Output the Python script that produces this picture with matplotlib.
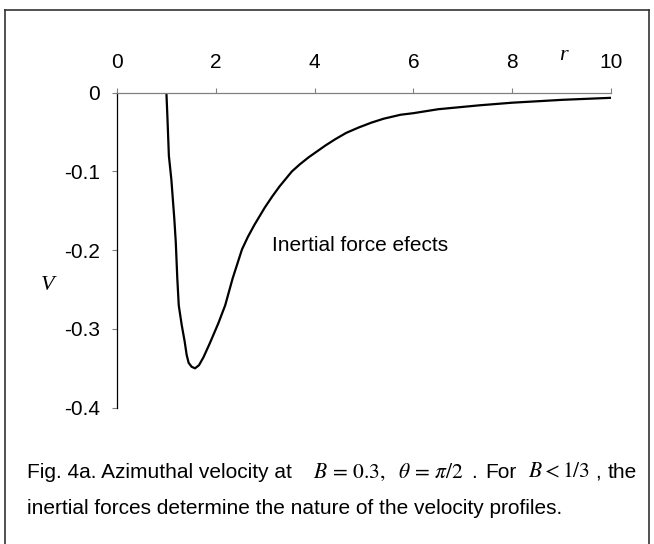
import matplotlib
matplotlib.use('Agg')
import matplotlib.pyplot as plt
from matplotlib.lines import Line2D

plt.rcParams['font.family'] = ['Liberation Sans', 'DejaVu Sans']
plt.rcParams['mathtext.fontset'] = 'stix'

# curve
r = [1.00, 1.02, 1.05, 1.10, 1.16, 1.19, 1.22, 1.25, 1.31, 1.37, 1.41, 1.45,
     1.51, 1.58, 1.66, 1.75, 1.88, 2.05, 2.19, 2.34, 2.53, 2.65, 2.78, 2.99,
     3.14, 3.29, 3.54, 3.70, 3.88, 4.22, 4.42, 4.64, 4.90, 5.15, 5.40, 5.74,
     6.00, 6.50, 7.34, 8.00, 9.03, 10.0]
V = [0.000, -0.030, -0.080, -0.110, -0.160, -0.190, -0.235, -0.270, -0.295,
     -0.316, -0.333, -0.343, -0.348, -0.350, -0.346, -0.336, -0.318, -0.293,
     -0.270, -0.236, -0.199, -0.183, -0.168, -0.146, -0.132, -0.119, -0.100,
     -0.091, -0.082, -0.067, -0.059, -0.051, -0.044, -0.038, -0.033, -0.028,
     -0.026, -0.021, -0.016, -0.0127, -0.009, -0.0065]

xticks = [0, 2, 4, 6, 8, 10]
yticks = [0, -0.1, -0.2, -0.3, -0.4]
ytick_labels = ['0', '-0.1', '-0.2', '-0.3', '-0.4']

W, H = 654, 544
fig = plt.figure(figsize=(W / 100, H / 100), dpi=100)

def px(x, y):
    return x / W, 1 - y / H

ax = fig.add_axes([117 / W, 1 - 407.7 / H, 494 / W, 315 / H])
ax.plot(r, V, color='black', lw=1.6)
ax.set_xlim(0, 10)
ax.set_ylim(-0.4, 0)

ax.spines['right'].set_visible(False)
ax.spines['bottom'].set_visible(False)
ax.spines['top'].set_color('#808080')
ax.spines['top'].set_linewidth(0.9)
ax.spines['left'].set_color('black')
ax.spines['left'].set_linewidth(0.9)

ax.xaxis.tick_top()
ax.set_xticks(xticks)
ax.set_yticks(yticks)
ax.set_yticklabels(ytick_labels)
ax.tick_params(axis='x', direction='out', length=3.6, width=0.8, color='#808080',
               pad=11, labelsize=15)
ax.tick_params(axis='y', direction='out', length=3.6, width=0.8, color='#808080',
               pad=8.5, labelsize=15)

ax.text(3.14, -0.194, 'Inertial force efects', fontsize=15, ha='left', va='center')

fig.text(*px(563, 55), 'r', fontsize=16, family='Liberation Serif', style='italic',
         ha='center', va='center')
fig.text(*px(48, 285), 'V', fontsize=16, family='Liberation Serif', style='italic',
         ha='center', va='center')

# caption
cy1, cy2 = 472, 508
fs = 15
fig.text(*px(27, cy1), 'Fig. 4a. Azimuthal velocity at', fontsize=fs, ha='left', va='center')
fig.text(*px(313, cy1), r'$B\,=\,0.3,\ \ \theta\,=\,\pi/2$', fontsize=fs + 0.5,
         ha='left', va='center')
fig.text(*px(471, cy1), '.', fontsize=fs, ha='left', va='center')
fig.text(*px(485, cy1), 'For', fontsize=fs, ha='left', va='center')
fig.text(*px(528, cy1), r'$B<1/3$', fontsize=fs + 0.5, ha='left', va='center')
fig.text(*px(595, cy1), ',', fontsize=fs, ha='left', va='center')
fig.text(*px(637, cy1), 'the', fontsize=fs, ha='right', va='center')
fig.text(*px(27, cy2), 'inertial forces determine the nature of the velocity profiles.',
         fontsize=fs, ha='left', va='center')

# frame around the figure
for xs, ys in [((5, 5), (10, 544)), ((5, 649), (10, 10)), ((649, 649), (10, 544))]:
    fig.add_artist(Line2D([xs[0] / W, xs[1] / W], [1 - ys[0] / H, 1 - ys[1] / H],
                          color='#333333', lw=1.2, transform=fig.transFigure))

fig.savefig('out.png', dpi=100)
